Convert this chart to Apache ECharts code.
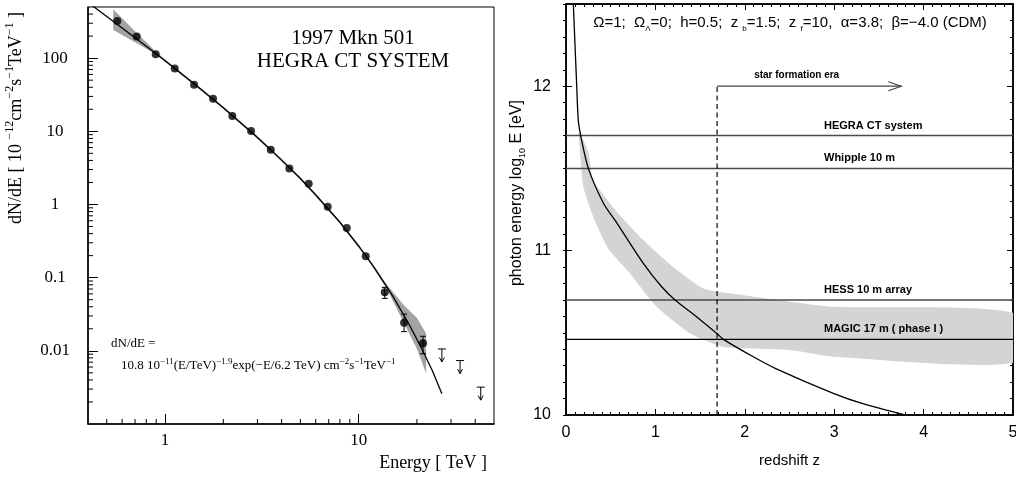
<!DOCTYPE html>
<html>
<head>
    <meta charset="utf-8">
    <title>Mkn 501 spectrum and gamma-ray horizon</title>
    <script src="https://cdn.jsdelivr.net/npm/echarts@6/dist/echarts.min.js"></script>
</head>
<body style="margin:0px">
<div id="main" style="width:1016px;height:481px;"></div>
<script type="text/javascript">
var SERIF = '"Liberation Serif", "Times New Roman", serif';
var SANS = '"Liberation Sans", Arial, sans-serif';

// ---- left panel: 1997 Mkn 501, HEGRA CT system ----
var specE = [0.567, 0.714, 0.895, 1.122, 1.412, 1.77, 2.226, 2.782, 3.516, 4.386, 5.52, 6.92, 8.68, 10.88, 13.64, 17.16, 21.5];
var specFlux = [322, 197, 113, 72.2, 43.3, 27.9, 16.2, 10.1, 5.58, 3.10, 1.92, 0.933, 0.478, 0.196, 0.063, 0.0242, 0.0127];
var errE = [13.64, 17.16, 21.5];
var errLo = [0.0521, 0.0183, 0.0091];
var errHi = [0.0736, 0.0318, 0.0158];
var ulE = [26.9, 33.4, 42.7];
var ulFlux = [0.0106, 0.00736, 0.00319];
var fitE = [0.4, 0.5, 0.6, 0.8, 1, 1.5, 2, 3, 4, 5, 6, 8, 10, 12, 15, 18, 21, 24, 26.9];
var fitFlux = [577, 372, 259, 145, 91.9, 39.3, 21.0, 8.25, 4.07, 2.27, 1.36, 0.572, 0.271, 0.139, 0.056, 0.0244, 0.0112, 0.00537, 0.00259];
var bandE = [0.54, 0.7, 0.9, 1.2, 2, 3, 5, 8, 11, 14, 17, 20, 22.3];
var bandHi = [465, 234, 121, 65.5, 21.8, 8.6, 2.36, 0.595, 0.200, 0.080, 0.043, 0.028, 0.0172];
var bandLo = [242, 165, 112, 60.4, 20.2, 7.9, 2.18, 0.549, 0.184, 0.070, 0.025, 0.0106, 0.0049];

// minor tick positions of the log axes
var eMinor = [0.5, 0.6, 0.7, 0.8, 0.9, 2, 3, 4, 5, 6, 7, 8, 9, 20, 30, 40];
var fluxMinor = [];
for (var d = -3; d <= 2; d++) {
    for (var m = 2; m <= 9; m++) {
        var v = +(m * Math.pow(10, d)).toPrecision(2);
        if (v < 500) fluxMinor.push(v);
    }
}

// ---- right panel: photon energy horizon vs redshift ----
var curveZ = [0.082, 0.12, 0.138, 0.164, 0.25, 0.417, 0.548, 0.865, 1.07, 1.22, 1.46, 1.70, 1.76, 2.095, 2.34, 2.99, 3.33, 3.79];
var curveLogE = [12.5, 12.0, 11.79, 11.70, 11.50, 11.29, 11.185, 10.922, 10.78, 10.70, 10.598, 10.49, 10.46, 10.354, 10.284, 10.132, 10.067, 10.0];
var bandUpZ = [0.15, 0.249, 0.305, 0.585, 0.865, 1.20, 1.536, 1.834, 2.506, 2.99, 5.0];
var bandUpLogE = [11.72, 11.60, 11.43, 11.226, 11.064, 10.90, 10.77, 10.74, 10.689, 10.658, 10.622];
var bandLowZ = [0.14, 0.157, 0.194, 0.305, 0.473, 0.716, 1.015, 1.387, 1.76, 2.506, 2.99, 5.0];
var bandLowLogE = [11.72, 11.60, 11.388, 11.205, 11.013, 10.861, 10.658, 10.497, 10.415, 10.395, 10.354, 10.318];
var detNames = ['HEGRA CT system', 'Whipple 10 m', 'HESS 10 m array', 'MAGIC 17 m ( phase I )'];
var detLogE = [11.70, 11.50, 10.70, 10.46];
var detColor = ['#4a4a4a', '#4a4a4a', '#4a4a4a', '#000'];
var sfZ = 1.69;
var sfArrowEnd = 3.75;

var chart = echarts.init(document.getElementById('main'));

function zip(a, b) {
    return a.map(function (x, i) { return [x, b[i]]; });
}

var option = {
    animation: false,
    backgroundColor: '#fff',
    grid: [
        { left: 88, top: 7, width: 406, height: 417, show: true, borderColor: '#000', borderWidth: 1, outerBoundsMode: 'none' },
        { left: 566, top: 4, width: 447, height: 411, show: true, borderColor: '#000', borderWidth: 1.5, outerBoundsMode: 'none' }
    ],
    xAxis: [
        {
            gridIndex: 0, type: 'log', logBase: 10, min: 0.4, max: 50,
            axisLine: { lineStyle: { color: '#000', width: 1.5 } },
            axisTick: { inside: true, length: 10, lineStyle: { color: '#000' } },
            axisLabel: { color: '#000', fontFamily: SERIF, fontSize: 17, margin: 8, showMinLabel: false, showMaxLabel: false },
            splitLine: { show: false }
        },
        {
            gridIndex: 1, type: 'value', min: 0, max: 5, interval: 1,
            name: 'redshift z', nameLocation: 'middle', nameGap: 38,
            nameTextStyle: { color: '#000', fontFamily: SANS, fontSize: 15 },
            axisLine: { lineStyle: { color: '#000', width: 1.5 } },
            axisTick: { inside: true, length: 6, lineStyle: { color: '#000' } },
            minorTick: { show: true, splitNumber: 10, length: 3, lineStyle: { color: '#000' } },
            axisLabel: { color: '#000', fontFamily: SANS, fontSize: 16, margin: 10 },
            splitLine: { show: false }
        },
        {
            gridIndex: 1, type: 'value', position: 'top', min: 0, max: 5, interval: 1,
            axisLine: { lineStyle: { color: '#000', width: 1.5 } },
            axisTick: { inside: true, length: 6, lineStyle: { color: '#000' } },
            minorTick: { show: true, splitNumber: 10, length: 3, lineStyle: { color: '#000' } },
            axisLabel: { show: false },
            splitLine: { show: false }
        }
    ],
    yAxis: [
        {
            gridIndex: 0, type: 'log', logBase: 10, min: 0.001, max: 500,
            axisLine: { lineStyle: { color: '#000', width: 1.5 } },
            axisTick: { inside: true, length: 10, lineStyle: { color: '#000' } },
            axisLabel: {
                color: '#000', fontFamily: SERIF, fontSize: 17, margin: 33, align: 'center',
                showMinLabel: false, showMaxLabel: false,
                formatter: function (v) { return String(+(+v).toPrecision(2)); }
            },
            splitLine: { show: false }
        },
        {
            gridIndex: 1, type: 'value', min: 10, max: 12.5, interval: 1,
            axisLine: { lineStyle: { color: '#000', width: 1.5 } },
            axisTick: { inside: true, length: 6, lineStyle: { color: '#000' } },
            axisLabel: { color: '#000', fontFamily: SANS, fontSize: 16, margin: 15, showMaxLabel: false },
            splitLine: { show: false }
        },
        {
            gridIndex: 1, type: 'value', min: 10, max: 12.5, interval: 0.1,
            axisLine: { show: false },
            axisTick: { inside: true, length: 3, lineStyle: { color: '#000' } },
            axisLabel: { show: false },
            splitLine: { show: false }
        },
        {
            gridIndex: 1, type: 'value', position: 'right', min: 10, max: 12.5, interval: 1,
            axisLine: { lineStyle: { color: '#000', width: 1.5 } },
            axisTick: { inside: true, length: 6, lineStyle: { color: '#000' } },
            axisLabel: { show: false },
            splitLine: { show: false }
        },
        {
            gridIndex: 1, type: 'value', position: 'right', min: 10, max: 12.5, interval: 0.1,
            axisLine: { show: false },
            axisTick: { inside: true, length: 3, lineStyle: { color: '#000' } },
            axisLabel: { show: false },
            splitLine: { show: false }
        }
    ],
    series: [
        // ---------- left panel ----------
        {   // fit uncertainty butterfly
            type: 'custom', xAxisIndex: 0, yAxisIndex: 0, silent: true, z: 1,
            data: [[bandE[0], bandHi[0]]],
            renderItem: function (params, api) {
                var pts = [];
                for (var i = 0; i < bandE.length; i++) pts.push(api.coord([bandE[i], bandHi[i]]));
                for (var j = bandE.length - 1; j >= 0; j--) pts.push(api.coord([bandE[j], bandLo[j]]));
                return { type: 'polygon', shape: { points: pts }, style: { fill: '#a3a3a3' } };
            }
        },
        {
            type: 'line', xAxisIndex: 0, yAxisIndex: 0, z: 3,
            data: zip(fitE, fitFlux), showSymbol: false, clip: true,
            lineStyle: { color: '#000', width: 1.3 }
        },
        {
            type: 'scatter', xAxisIndex: 0, yAxisIndex: 0, z: 4,
            data: zip(specE, specFlux), symbol: 'circle', symbolSize: 8,
            itemStyle: { color: '#000' }
        },
        {   // error bars
            type: 'custom', xAxisIndex: 0, yAxisIndex: 0, z: 4, silent: true,
            data: errE.map(function (e, i) { return [e, errLo[i], errHi[i]]; }),
            encode: { x: 0, y: [1, 2] },
            renderItem: function (params, api) {
                var lo = api.coord([api.value(0), api.value(1)]);
                var hi = api.coord([api.value(0), api.value(2)]);
                var w = 3;
                return {
                    type: 'group', children: [
                        { type: 'line', shape: { x1: lo[0], y1: lo[1], x2: hi[0], y2: hi[1] }, style: { stroke: '#000', lineWidth: 1 } },
                        { type: 'line', shape: { x1: lo[0] - w, y1: lo[1], x2: lo[0] + w, y2: lo[1] }, style: { stroke: '#000', lineWidth: 1 } },
                        { type: 'line', shape: { x1: hi[0] - w, y1: hi[1], x2: hi[0] + w, y2: hi[1] }, style: { stroke: '#000', lineWidth: 1 } }
                    ]
                };
            }
        },
        {   // upper limits
            type: 'custom', xAxisIndex: 0, yAxisIndex: 0, z: 4, silent: true,
            data: zip(ulE, ulFlux),
            renderItem: function (params, api) {
                var p = api.coord([api.value(0), api.value(1)]);
                var st = { stroke: '#000', lineWidth: 1, fill: null };
                return {
                    type: 'group', children: [
                        { type: 'line', shape: { x1: p[0] - 4, y1: p[1], x2: p[0] + 4, y2: p[1] }, style: st },
                        { type: 'line', shape: { x1: p[0], y1: p[1], x2: p[0], y2: p[1] + 13 }, style: st },
                        { type: 'polyline', shape: { points: [[p[0] - 2.5, p[1] + 8.5], [p[0], p[1] + 13], [p[0] + 2.5, p[1] + 8.5]] }, style: st }
                    ]
                };
            }
        },
        {   // minor ticks, energy axis
            type: 'custom', xAxisIndex: 0, yAxisIndex: 0, silent: true, z: 5,
            data: eMinor.map(function (e) { return [e, 0.001]; }),
            renderItem: function (params, api) {
                var p = api.coord([api.value(0), api.value(1)]);
                return { type: 'line', shape: { x1: p[0], y1: p[1], x2: p[0], y2: p[1] - 5 }, style: { stroke: '#000', lineWidth: 1 } };
            }
        },
        {   // minor ticks, flux axis
            type: 'custom', xAxisIndex: 0, yAxisIndex: 0, silent: true, z: 5,
            data: fluxMinor.map(function (f) { return [0.4, f]; }),
            renderItem: function (params, api) {
                var p = api.coord([api.value(0), api.value(1)]);
                return { type: 'line', shape: { x1: p[0], y1: p[1], x2: p[0] + 5, y2: p[1] }, style: { stroke: '#000', lineWidth: 1 } };
            }
        },

        // ---------- right panel ----------
        {   // uncertainty band
            type: 'custom', xAxisIndex: 1, yAxisIndex: 1, silent: true, z: 1, clip: true,
            data: [[bandUpZ[0], bandUpLogE[0]]],
            renderItem: function (params, api) {
                var pts = [];
                for (var i = 0; i < bandUpZ.length; i++) pts.push(api.coord([bandUpZ[i], bandUpLogE[i]]));
                for (var j = bandLowZ.length - 1; j >= 0; j--) pts.push(api.coord([bandLowZ[j], bandLowLogE[j]]));
                return { type: 'polygon', shape: { points: pts, smooth: 0.2 }, style: { fill: '#d4d4d4' } };
            }
        },
        {   // detector thresholds
            type: 'custom', xAxisIndex: 1, yAxisIndex: 1, silent: true, z: 2,
            data: detLogE.map(function (e, i) { return [i, e]; }),
            renderItem: function (params, api) {
                var i = params.dataIndex;
                var a = api.coord([0, api.value(1)]);
                var b = api.coord([5, api.value(1)]);
                var t = api.coord([2.886, api.value(1)]);
                return {
                    type: 'group', children: [
                        { type: 'line', shape: { x1: a[0], y1: a[1], x2: b[0], y2: b[1] }, style: { stroke: detColor[i], lineWidth: i === 3 ? 1.2 : 1.5 } },
                        { type: 'text', x: t[0], y: t[1] - 10, style: { text: detNames[i], fill: '#000', font: 'bold 11px ' + SANS, align: 'left', verticalAlign: 'middle' } }
                    ]
                };
            }
        },
        {
            type: 'line', xAxisIndex: 1, yAxisIndex: 1, z: 3, clip: true,
            data: zip(curveZ, curveLogE), showSymbol: false, smooth: 0.3,
            lineStyle: { color: '#000', width: 1.3 }
        },
        {   // start of star formation era
            type: 'line', xAxisIndex: 1, yAxisIndex: 1, z: 3,
            data: [[sfZ, 10], [sfZ, 12]], showSymbol: false,
            lineStyle: { color: '#000', width: 1.2, type: [5, 3.5] }
        },
        {
            type: 'custom', xAxisIndex: 1, yAxisIndex: 1, silent: true, z: 3,
            data: [[sfZ, 12]],
            renderItem: function (params, api) {
                var p0 = api.coord([sfZ, 12]);
                var p1 = api.coord([sfArrowEnd, 12]);
                var tc = api.coord([2.58, 12]);
                var st = { stroke: '#444', lineWidth: 1.2, fill: null };
                return {
                    type: 'group', children: [
                        { type: 'line', shape: { x1: p0[0], y1: p0[1], x2: p1[0], y2: p1[1] }, style: st },
                        { type: 'polyline', shape: { points: [[p1[0] - 13, p1[1] - 4.5], [p1[0], p1[1]], [p1[0] - 13, p1[1] + 4.5]] }, style: st },
                        { type: 'text', x: tc[0], y: tc[1] - 11, style: { text: 'star formation era', fill: '#000', font: 'bold 10px ' + SANS, align: 'center', verticalAlign: 'middle' } }
                    ]
                };
            }
        }
    ],
    graphic: [
        {
            type: 'text', x: 353, y: 38,
            style: { text: '1997 Mkn 501', font: '21px ' + SERIF, fill: '#000', align: 'center', verticalAlign: 'middle' }
        },
        {
            type: 'text', x: 353, y: 61,
            style: { text: 'HEGRA CT SYSTEM', font: '21px ' + SERIF, fill: '#000', align: 'center', verticalAlign: 'middle' }
        },
        {
            type: 'text', x: 111, y: 344,
            style: { text: 'dN/dE =', font: '13px ' + SERIF, fill: '#000', align: 'left', verticalAlign: 'middle' }
        },
        {
            type: 'text', x: 121, y: 366,
            style: {
                text: '{m|10.8 10}{p|−11}{m|(E/TeV)}{p|−1.9}{m|exp(−E/6.2 TeV) cm}{p|−2}{m|s}{p|−1}{m|TeV}{p|−1}',
                align: 'left', verticalAlign: 'middle',
                rich: {
                    m: { fontFamily: SERIF, fontSize: 13, lineHeight: 18, fill: '#000' },
                    p: { fontFamily: SERIF, fontSize: 9, verticalAlign: 'top', fill: '#000' }
                }
            }
        },
        {
            type: 'text', x: 16, y: 118, rotation: Math.PI / 2,
            style: {
                text: '{m|dN/dE [ 10 }{p|−12}{m|cm}{p|−2}{m|s}{p|−1}{m|TeV}{p|−1}{m| ]}',
                align: 'center', verticalAlign: 'middle',
                rich: {
                    m: { fontFamily: SERIF, fontSize: 18, lineHeight: 24, fill: '#000' },
                    p: { fontFamily: SERIF, fontSize: 12, verticalAlign: 'top', fill: '#000' }
                }
            }
        },
        {
            type: 'text', x: 487, y: 463,
            style: { text: 'Energy [ TeV ]', font: '18px ' + SERIF, fill: '#000', align: 'right', verticalAlign: 'middle' }
        },
        {
            type: 'text', x: 790, y: 23,
            style: {
                text: '{m|Ω=1;  Ω}{s|Λ}{m|=0;  h=0.5;  z }{s|b}{m|=1.5;  z }{s|f}{m|=10,  α=3.8;  β=−4.0 (CDM)}',
                align: 'center', verticalAlign: 'middle',
                rich: {
                    m: { fontFamily: SANS, fontSize: 15, lineHeight: 20, fill: '#000' },
                    s: { fontFamily: SANS, fontSize: 8, verticalAlign: 'bottom', fill: '#000' }
                }
            }
        },
        {
            type: 'text', x: 517, y: 193, rotation: Math.PI / 2,
            style: {
                text: '{m|photon energy log}{s|10}{m| E [eV]}',
                align: 'center', verticalAlign: 'middle',
                rich: {
                    m: { fontFamily: SANS, fontSize: 16, lineHeight: 20, fill: '#000' },
                    s: { fontFamily: SANS, fontSize: 9, verticalAlign: 'bottom', fill: '#000' }
                }
            }
        }
    ]
};

chart.setOption(option);
</script>
</body>
</html>
